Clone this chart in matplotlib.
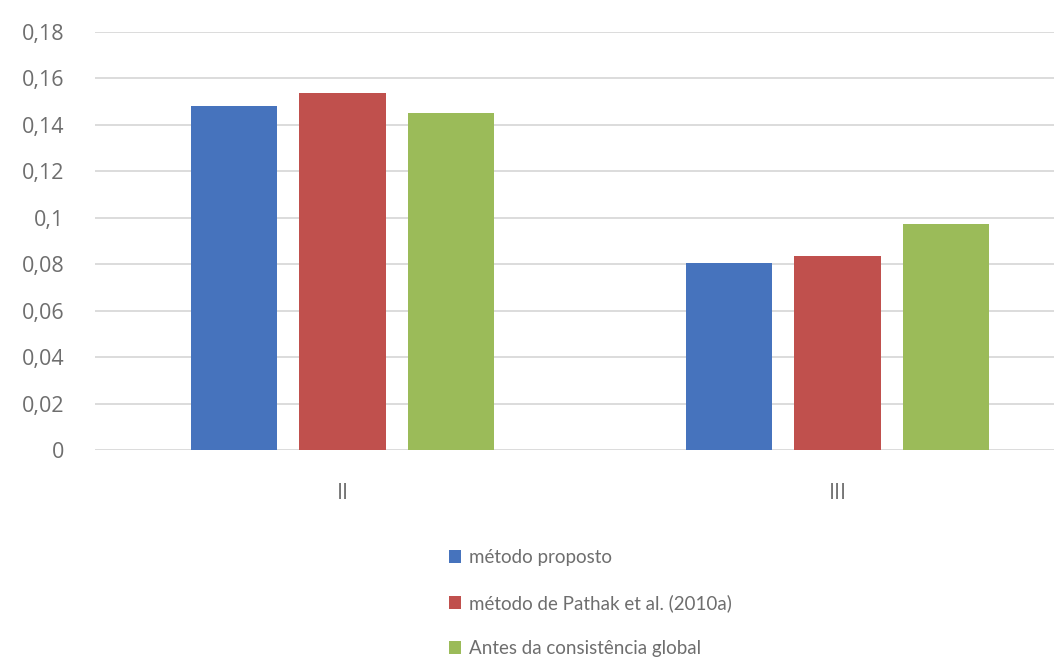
import matplotlib
matplotlib.use("Agg")
import matplotlib.pyplot as plt
import numpy as np

plt.rcParams['font.family'] = ['Open Sans', 'DejaVu Sans']

categories = ["II", "III"]
series_names = ["método proposto", "método de Pathak et al. (2010a)", "Antes da consistência global"]
metodo_proposto = [0.148, 0.0805]
metodo_pathak = [0.1537, 0.0835]
antes_consistencia = [0.145, 0.0973]
y_ticks = [0, 0.02, 0.04, 0.06, 0.08, 0.1, 0.12, 0.14, 0.16, 0.18]
y_tick_labels = ["0", "0,02", "0,04", "0,06", "0,08", "0,1", "0,12", "0,14", "0,16", "0,18"]

colors = ["#4673BD", "#C0504D", "#9BBB59"]
text_color = "#6e6e6e"
grid_color = "#d9d9d9"

W, H = 1054, 665
fig = plt.figure(figsize=(W / 100, H / 100), dpi=100)
left, right = 95, 1054
top, bottom = 32, 450
ax = fig.add_axes([left / W, 1 - bottom / H, (right - left) / W, (bottom - top) / H])

x = np.arange(len(categories))
bar_w = 0.174
offsets = [-0.220, 0.0, 0.220]
for vals, off, c, name in zip([metodo_proposto, metodo_pathak, antes_consistencia],
                              offsets, colors, series_names):
    ax.bar(x + off, vals, width=bar_w, color=c, label=name, zorder=3)

ax.set_ylim(0, 0.18)
ax.set_xlim(-0.5, -0.5 + (right - left) / 495)
ax.set_yticks(y_ticks)
ax.set_yticklabels(y_tick_labels)
ax.set_xticks(x)
ax.set_xticklabels(categories)
ax.grid(axis='y', color=grid_color, linewidth=1.3, zorder=0)
for s in ax.spines.values():
    s.set_visible(False)
ax.tick_params(axis='both', length=0, labelsize=15.5, colors=text_color)
ax.tick_params(axis='y', pad=22)
ax.tick_params(axis='x', pad=24)

handles, labels = ax.get_legend_handles_labels()
leg = fig.legend(handles, labels, loc='upper left',
                 bbox_to_anchor=(449 / W, 1 - 549 / H),
                 frameon=False, prop={'family': ['Lato', 'DejaVu Sans'], 'size': 13.5},
                 handlelength=0.65, handleheight=0.65,
                 handletextpad=0.4, labelspacing=1.5, borderaxespad=0, borderpad=0)
for t in leg.get_texts():
    t.set_color(text_color)

fig.savefig("out.png", dpi=100)
